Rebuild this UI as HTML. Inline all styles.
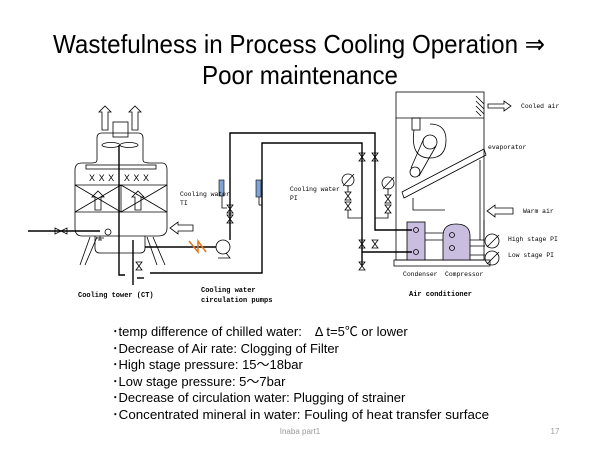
<!DOCTYPE html>
<html><head><meta charset="utf-8"><style>
html,body{margin:0;padding:0;background:#fff;width:600px;height:450px;overflow:hidden}
svg{display:block}
.m{font-family:"Liberation Mono","DejaVu Sans Mono",monospace;font-size:6.4px;fill:#000}
.b{font-family:"Liberation Mono",monospace;font-size:7px;font-weight:bold;fill:#000}
.t{font-family:"Liberation Sans","Noto Sans CJK JP",sans-serif;font-size:13px;fill:#000}
</style></head><body>
<svg width="600" height="450" viewBox="0 0 600 450" xmlns="http://www.w3.org/2000/svg">
<g font-family="Liberation Sans, sans-serif" font-size="26" text-anchor="middle" fill="#000">
<text x="299" y="53" textLength="492" lengthAdjust="spacingAndGlyphs">Wastefulness in Process Cooling Operation ⇒</text>
<text x="300" y="84" textLength="196" lengthAdjust="spacingAndGlyphs">Poor maintenance</text>
</g>
<g fill="none" stroke="#000" stroke-width="0.8">
<!-- tower -->
<path d="M97,160 V138 Q97,133 102,133 H138 Q143,133 143,138 V160 Q143,163 150,163 H162 Q167,163 167,170 V228 Q167,236 158,236 H82 Q75,236 75,228 V170 Q75,163 82,163 H92 Q97,163 97,160 Z"/>
<path d="M95,236 V248 Q95,253 100,253 H140 Q145,253 145,248 V236"/>
<rect x="113" y="122" width="15" height="15"/>
<ellipse cx="111" cy="145" rx="9" ry="2.5"/><ellipse cx="129" cy="145" rx="9" ry="2.5"/>
<rect x="86" y="165" width="70" height="4"/>
<line x1="75" y1="185" x2="167" y2="185"/><line x1="75" y1="212" x2="167" y2="212"/>
<line x1="121" y1="185" x2="121" y2="212"/>
<path d="M75,185 L121,212 M121,185 L75,212 M121,185 L167,212 M167,185 L121,212"/>
<path d="M90,237 L80,265 M97,237 L85,265 M147,237 L157,265 M153,237 L165,265"/>
<path d="M102,130 V112 H99 L105,106 L111,112 H108 V130 Z"/>
<path d="M132,130 V112 H129 L135,106 L141,112 H138 V130 Z"/>
<path d="M95,210 V197 H92 L98,191 L104,197 H101 V210 Z"/>
<path d="M135,210 V197 H132 L138,191 L144,197 H141 V210 Z"/>
<path d="M193,225 H178 V222 L170,228 L178,234 V231 H193 Z"/>
<!-- air conditioner -->
<rect x="396" y="92" width="88" height="168"/>
<line x1="396" y1="118" x2="484" y2="118"/>
<path d="M476,96 L484,104 M476,101 L484,109 M476,106 L484,114 M476,111 L481,116" />
<rect x="394" y="260" width="96" height="6"/>
<path d="M402,192 L484,149 L486,155 L404,198 Z"/>
<rect x="412" y="118" width="8" height="12"/>
<path d="M414,130 Q410,158 430,158 Q446,158 446,140 Q446,124 430,124"/>
<circle cx="430" cy="142" r="7"/><circle cx="415" cy="172" r="5"/>
<path d="M424,138 L411,168 M436,146 L419,176"/>
<path d="M413,198 V210 H445 M443,240 H425 M443,233 H425 M470,240 H484 V220 M475,240 H480 V160"/>
<path d="M470,246 H485 M470,255 H485"/>
<circle cx="492" cy="241" r="7"/><circle cx="492" cy="258" r="7"/>
<path d="M487,247 L499,235 M487,264 L499,252"/>
<path d="M488,104 H504 V101 L511,106 L504,111 V108 H488 Z"/>
<path d="M513,208 H495 V205 L487,211 L495,217 V214 H513 Z"/>
</g>
<rect x="407" y="222" width="18" height="38" fill="#c9bde0" stroke="#000" stroke-width="0.8"/>
<path d="M443,260 V236 Q443,224 456,224 Q470,224 470,236 V260 Z" fill="#c9bde0" stroke="#000" stroke-width="0.8"/>
<g fill="none" stroke="#000" stroke-width="0.8"><circle cx="416" cy="230" r="2.5"/><circle cx="416" cy="252" r="2.5"/><circle cx="452" cy="235" r="2.5"/><circle cx="452" cy="248" r="2.5"/></g>
<!-- pipes -->
<g fill="none" stroke="#000" stroke-width="1.4">
<path d="M28,231 H100"/>
<path d="M230,240 V133 H375 V230 H412"/>
<path d="M150,273 H262 V143 H362 V265"/>
<path d="M362,252 H412"/>
<path d="M145,247 H216"/>
<path d="M119,145 V275 H125"/>
<path d="M133,240 V285"/>
<path d="M137,278 H144"/>
</g>
<g fill="none" stroke="#000" stroke-width="0.8">
<circle cx="223" cy="247" r="7"/><path d="M218,258 H230 L226,253"/>
<circle cx="108" cy="232" r="3"/>
<path d="M55,228 L67,234 V228 L55,234 Z"/>
<path d="M227,205 L233,213 H227 L233,205 Z M227,215 L233,223 H227 L233,215 Z"/>
<path d="M136,262 L142,270 H136 L142,262 Z"/>
<path d="M359,153 L365,161 H359 L365,153 Z M372,153 L378,161 H372 L378,153 Z"/>
<path d="M359,240 L365,248 H359 L365,240 Z M372,240 L378,248 H372 L378,240 Z"/>
<path d="M359,262 L365,270 H359 L365,262 Z"/>
<path d="M345,192 L351,200 H345 L351,192 Z M345,202 L351,210 H345 L351,202 Z M348,192 V185 M348,210 V218 H362"/>
<circle cx="348" cy="180" r="6"/><path d="M343,186 L354,174"/>
<path d="M385,195 L391,203 H385 L391,195 Z M385,205 L391,213 H385 L391,205 Z M388,195 V188 M388,213 V218 H375"/>
<circle cx="388" cy="183" r="6"/><path d="M383,189 L394,177"/>
<path d="M100,236 V240 M96,238 H104 M98,240 H102"/>
<line x1="259" y1="197" x2="259" y2="205"/><line x1="259" y1="205" x2="262" y2="205"/>
</g>
<rect x="219" y="180" width="5" height="16" fill="#7fa3d4" stroke="#000" stroke-width="0.6"/>
<rect x="256" y="180" width="5" height="17" fill="#7fa3d4" stroke="#000" stroke-width="0.6"/>
<path d="M222,196 V208 H227" fill="none" stroke="#000" stroke-width="0.8"/>
<path d="M189,241 L198,252 V241 L206,252" fill="none" stroke="#e07820" stroke-width="1.5"/>
<g fill="#000" font-family="Liberation Sans" font-size="9"><text x="89" y="181" textLength="60">XXX XXX</text></g>
<text class="m" x="180" y="196">Cooling water</text><text class="m" x="180" y="205">TI</text>
<text class="m" x="290" y="191">Cooling water</text><text class="m" x="290" y="200">PI</text>
<text class="m" x="521" y="108">Cooled air</text>
<text class="m" x="488" y="149">evaporator</text>
<text class="m" x="523" y="213">Warm air</text>
<text class="m" x="508" y="241">High stage PI</text>
<text class="m" x="508" y="257">Low stage PI</text>
<text class="m" x="403" y="276">Condenser</text>
<text class="m" x="445" y="276">Compressor</text>
<text class="b" x="78" y="297">Cooling tower (CT)</text>
<text class="b" x="201" y="292">Cooling water</text>
<text class="b" x="201" y="302">circulation pumps</text>
<text class="b" x="409" y="296">Air conditioner</text>
<g class="t">
<text class="t" x="112" y="336">･temp difference of chilled water:　Δ t=5℃ or lower</text>
<text class="t" x="112" y="353">･Decrease of Air rate: Clogging of Filter</text>
<text class="t" x="112" y="369">･High stage pressure: 15～18bar</text>
<text class="t" x="112" y="386">･Low stage pressure: 5～7bar</text>
<text class="t" x="112" y="402">･Decrease of circulation water: Plugging of strainer</text>
<text class="t" x="112" y="419" textLength="377" lengthAdjust="spacingAndGlyphs">･Concentrated mineral in water: Fouling of heat transfer surface</text>
</g>
<text x="300" y="434" font-family="Liberation Sans" font-size="8" fill="#999" text-anchor="middle">Inaba part1</text>
<text x="555" y="434" font-family="Liberation Sans" font-size="8" fill="#999" text-anchor="middle">17</text>
</svg>
</body></html>
